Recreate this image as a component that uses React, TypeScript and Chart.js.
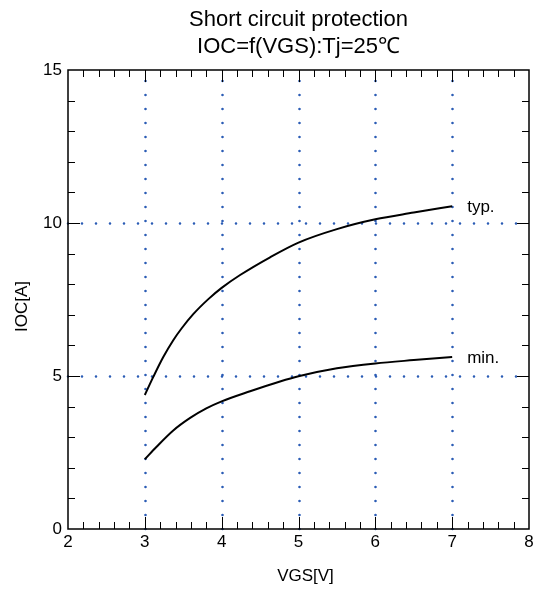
import React, { useEffect, useRef } from "react";
import { Chart, registerables } from "chart.js";

Chart.register(...registerables);

const titleLines = ["Short circuit protection", "IOC=f(VGS):Tj=25℃"];
const xTitle = "VGS[V]";
const yTitle = "IOC[A]";

const vgsTyp = [3.0, 3.11, 3.24, 3.37, 3.48, 3.63, 3.83, 4.0, 4.24, 4.63, 5.0, 5.5, 6.0, 6.5, 7.0];
const iocTyp = [4.38, 4.97, 5.62, 6.17, 6.56, 7.02, 7.52, 7.88, 8.3, 8.88, 9.36, 9.8, 10.12, 10.34, 10.55];
const vgsMin = [3.0, 3.15, 3.37, 3.59, 3.8, 4.0, 4.37, 4.76, 5.0, 5.5, 6.0, 6.5, 7.0];
const iocMin = [2.28, 2.68, 3.22, 3.63, 3.94, 4.17, 4.5, 4.82, 4.99, 5.25, 5.41, 5.52, 5.62];
const seriesLabels = ["typ.", "min."];

const xGrid = [3, 4, 5, 6, 7];
const yGrid = [5, 10];

const FONT = "'Liberation Sans', Arial, sans-serif";

const decorPlugin = {
  id: "decor",
  beforeDatasetsDraw(chart: any) {
    const { ctx, chartArea: a, scales } = chart;
    const xs = scales.x;
    const ys = scales.y;
    ctx.save();
    ctx.strokeStyle = "#2b5cb5";
    ctx.lineWidth = 2.6;
    ctx.lineCap = "round";
    ctx.setLineDash([0, 14]);
    for (const v of xGrid) {
      const px = Math.round(xs.getPixelForValue(v)) + 0.5;
      ctx.beginPath();
      ctx.moveTo(px, a.bottom);
      ctx.lineTo(px, a.top);
      ctx.stroke();
    }
    for (const v of yGrid) {
      const py = Math.round(ys.getPixelForValue(v)) + 0.5;
      ctx.beginPath();
      ctx.moveTo(a.left, py);
      ctx.lineTo(a.right, py);
      ctx.stroke();
    }
    ctx.restore();
  },
  afterDatasetsDraw(chart: any) {
    const { ctx, chartArea: a, scales } = chart;
    const xs = scales.x;
    const ys = scales.y;
    ctx.save();
    ctx.strokeStyle = "#000";
    ctx.lineWidth = 1;
    ctx.setLineDash([]);
    for (let i = 1; i < 30; i++) {
      const v = xs.min + i * 0.2;
      const major = i % 5 === 0;
      const len = major ? 12 : 7;
      const px = Math.round(xs.getPixelForValue(v)) + 0.5;
      ctx.beginPath();
      ctx.moveTo(px, a.bottom);
      ctx.lineTo(px, a.bottom - len);
      ctx.moveTo(px, a.top);
      ctx.lineTo(px, a.top + len);
      ctx.stroke();
    }
    for (let i = 1; i < 15; i++) {
      const major = i % 5 === 0;
      const len = major ? 12 : 7;
      const py = Math.round(ys.getPixelForValue(i)) + 0.5;
      ctx.beginPath();
      ctx.moveTo(a.left, py);
      ctx.lineTo(a.left + len, py);
      ctx.moveTo(a.right, py);
      ctx.lineTo(a.right - len, py);
      ctx.stroke();
    }
    ctx.lineWidth = 1.5;
    ctx.strokeRect(a.left, a.top, a.right - a.left, a.bottom - a.top);

    ctx.fillStyle = "#000";
    ctx.font = `17px ${FONT}`;
    ctx.textAlign = "left";
    ctx.textBaseline = "alphabetic";
    const lx = xs.getPixelForValue(vgsTyp[vgsTyp.length - 1]) + 15;
    ctx.fillText(seriesLabels[0], lx, ys.getPixelForValue(iocTyp[iocTyp.length - 1]) + 6);
    ctx.fillText(seriesLabels[1], lx, ys.getPixelForValue(iocMin[iocMin.length - 1]) + 6);

    ctx.textAlign = "center";
    ctx.font = `22px ${FONT}`;
    const cx = (a.left + a.right) / 2;
    ctx.fillText(titleLines[0], cx, 26);
    ctx.fillText(titleLines[1], cx, 53);

    ctx.font = `17px ${FONT}`;
    ctx.fillText(xTitle, cx + 7, 581);
    ctx.save();
    ctx.translate(27, (a.top + a.bottom) / 2 + 7);
    ctx.rotate(-Math.PI / 2);
    ctx.fillText(yTitle, 0, 0);
    ctx.restore();
    ctx.restore();
  },
};

export default function App() {
  const ref = useRef<HTMLCanvasElement | null>(null);
  useEffect(() => {
    document.body.style.margin = "0";
    const canvas = ref.current;
    if (!canvas) return;
    const chart = new Chart(canvas, {
      type: "line",
      data: {
        datasets: [
          {
            label: seriesLabels[0],
            data: vgsTyp.map((x, i) => ({ x, y: iocTyp[i] })),
            borderColor: "#000",
            borderWidth: 2,
            pointRadius: 0,
            cubicInterpolationMode: "monotone",
            fill: false,
          },
          {
            label: seriesLabels[1],
            data: vgsMin.map((x, i) => ({ x, y: iocMin[i] })),
            borderColor: "#000",
            borderWidth: 2,
            pointRadius: 0,
            cubicInterpolationMode: "monotone",
            fill: false,
          },
        ],
      },
      options: {
        animation: false,
        responsive: false,
        events: [],
        layout: { padding: { top: 70, right: 9, left: 0, bottom: 0 } },
        plugins: { legend: { display: false }, title: { display: false }, tooltip: { enabled: false } },
        scales: {
          x: {
            type: "linear",
            min: 2,
            max: 8,
            grid: { display: false, drawTicks: false },
            border: { display: false },
            ticks: { stepSize: 1, color: "#000", font: { family: FONT, size: 17 }, padding: 3, maxRotation: 0 },
            afterFit: (s: any) => {
              s.height = 61;
            },
          },
          y: {
            type: "linear",
            min: 0,
            max: 15,
            grid: { display: false, drawTicks: false },
            border: { display: false },
            ticks: { stepSize: 5, color: "#000", font: { family: FONT, size: 17 }, padding: 6 },
            afterFit: (s: any) => {
              s.width = 68;
            },
          },
        },
      },
      plugins: [decorPlugin],
    } as any);
    return () => chart.destroy();
  }, []);
  return (
    <div style={{ width: 538, height: 590 }}>
      <canvas ref={ref} width={538} height={590} style={{ display: "block" }} />
    </div>
  );
}
